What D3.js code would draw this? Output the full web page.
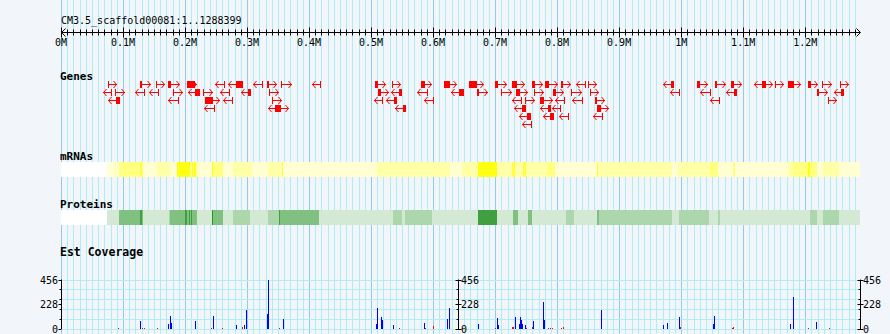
<!DOCTYPE html>
<html><head><meta charset="utf-8">
<script src="https://cdn.jsdelivr.net/npm/d3@7"></script>
<style>body{margin:0;background:#f2f5fa}svg{display:block}</style>
</head><body><svg id="c" width="890" height="334"></svg>
<script>
// ---------------- DATA ----------------
const title = "CM3.5_scaffold00081:1..1288399";
const seqLength = 1288399;
const majorTicks = [0,100000,200000,300000,400000,500000,600000,700000,800000,900000,1000000,1100000,1200000];
const tickLabels = ["0M","0.1M","0.2M","0.3M","0.4M","0.5M","0.6M","0.7M","0.8M","0.9M","1M","1.1M","1.2M"];
const trackLabels = ["Genes","mRNAs","Proteins","Est Coverage"];

// genes: [startKb, endKb, strand (1 fwd, -1 rev, 0 both), row, cdsStartKb, cdsEndKb]
const genes = [
  [76,90,1,0],[127,145,1,0,127,131],[153,168,1,0],[173,192,1,0,173,178],[203,220,1,0,203,216],
  [249,264,-1,0],[269,293,-1,0,282,293],[309,325,-1,0],[332,349,1,0,332,336],[355,372,1,0],[404,419,-1,0],
  [67,82,-1,1],[87,103,1,1],[120,135,-1,1],[142,158,-1,1],[181,197,1,1],[205,224,-1,1,216,224],
  [229,245,1,1],[256,272,-1,1],[290,307,-1,1,301,307],[335,352,1,1],
  [76,95,-1,2,88,95],[173,190,-1,2],[232,257,1,2,232,245],[262,278,-1,2],[341,356,1,2],
  [231,248,-1,3],[334,368,0,3,345,355],
  [506,524,1,0,506,511],[533,549,1,0],[580,599,1,0,580,587],[618,639,1,0,618,627],[658,682,1,0,658,670],
  [700,719,1,0,700,704],[727,748,1,0,727,735],[760,777,1,0,760,764],[780,801,1,0,780,787],
  [806,823,1,0,806,810],[830,847,-1,0],[850,865,1,0],
  [511,529,1,1,511,516],[532,550,-1,1,545,550],[574,591,-1,1],[629,650,-1,1,641,650],[670,688,1,1,670,674],
  [709,727,1,1],[733,753,1,1,733,740],[763,779,1,1],[794,811,1,1,794,798],[822,840,1,1],[853,867,1,1],
  [504,520,-1,2],[524,542,-1,2,537,542],[585,601,-1,2],[728,744,-1,2],[748,764,1,2],[772,793,1,2,772,779],
  [797,813,-1,2],[824,841,-1,2],[861,878,1,2,861,865],
  [539,556,-1,3,552,556],[730,750,-1,3,744,750],[772,790,-1,3,785,790],[792,807,-1,3],[864,884,1,3,864,870],
  [739,758,-1,4,752,758],[778,795,-1,4,788,795],[803,819,-1,4],[858,874,-1,4],
  [743,759,-1,5],
  [971,988,-1,0,983,988],[1025,1043,1,0,1025,1030],[1055,1072,1,0,1055,1058],[1080,1098,1,0,1080,1085],
  [1117,1148,0,0,1130,1137],[1151,1166,1,0],[1172,1194,1,0,1172,1182],[1204,1221,1,0,1204,1209],
  [1227,1243,1,0],[1256,1271,1,0],
  [982,998,-1,1],[1031,1048,-1,1],[1072,1090,-1,1,1085,1090],[1219,1236,1,1,1219,1223],[1246,1263,-1,1,1257,1263],
  [1046,1063,-1,2],[1237,1251,1,2]
];

// density bands: [startKb, endKb, level]
const mrnaSegments = [
  [0,73.7,0],[73.7,87,1],[87,89,2],[89,93.5,1],[93.5,127.4,3],[127.4,130.1,4],[130.1,132.7,3],
  [132.7,154.3,1],[154.3,175.8,2],[175.8,186.6,1],[186.6,208,5],[208,211,3],[211,213,5],[213,215,3],
  [215,217,5],[217,218.8,3],[218.8,243,1],[243,245.6,5],[245.6,261.7,3],[261.7,277.8,1],[277.8,307.5,2],
  [307.5,334.3,1],[334.3,355.9,2],[355.9,358.5,4],[358.5,509.1,1],[509.1,600.3,2],[600.3,627.2,2],
  [627.2,646.1,1],[646.1,672.9,2],[672.9,702.6,5],[702.6,726.8,2],[726.8,732,4],[732,745,2],[745,750,4],
  [750,764.3,2],[764.3,783.2,2],[783.2,796.6,3],[796.6,863.8,1],[863.8,866.4,4],[866.4,984.8,2],
  [984.8,995.4,1],[995.4,1046.5,2],[1046.5,1059.9,3],[1059.9,1084,1],[1084,1086.8,3],[1086.8,1172.8,1],
  [1172.8,1180.8,2],[1180.8,1205,3],[1205,1207.7,5],[1207.7,1218.6,3],[1218.6,1229.2,1],[1229.2,1255,2],
  [1255,1288.4,1]
];
const proteinSegments = [
  [0,73.7,0],[73.7,93.5,1],[93.5,127.4,3],[127.4,130.1,4],[130.1,132.7,3],[132.7,154,1],[154,155.5,2],
  [155.5,174,1],[174,175.8,2],[175.8,200,3],[200,203,4],[203,206,3],[206,208,4],[208,210,3],[210,212,4],
  [212,218.8,3],[218.8,243,1],[243,245.6,5],[245.6,261.7,3],[261.7,277.8,1],[277.8,305,2],[305,334.3,1],
  [334.3,351,2],[351,353.5,4],[353.5,416.4,3],[416.4,509,1],[509,536,1],[536,550,2],[550,555,1],
  [555,598,2],[598,627,1],[627,673,1],[673,702.6,4],[702.6,729.5,1],[729.5,737.5,3],[737.5,753.6,1],
  [753.6,759,3],[759,796.6,1],[796.6,815,1],[815,827,2],[827,863.8,1],[863.8,868,3],[868,984.8,2],
  [984.8,996.5,1],[996.5,1045.4,2],[1045.4,1059.9,1],[1059.9,1062,2],[1062,1172.8,1],[1172.8,1207.7,1],
  [1207.7,1218.6,2],[1218.6,1228.4,1],[1228.4,1255,2],[1255,1288.4,1]
];

// EST coverage: [positionKb, value]
const coverageBlue = [
  [127.9,70],[173,42],[176.2,116],[177.9,55],[216.6,70],[245.6,116],[282.7,33],[294.6,33],[298.8,172],
  [332.2,135],[334.3,456],[357.5,88],[508,42],[509.6,188],[516.5,110],[518.1,80],[535.8,33],[585.8,48],
  [622.9,88],[626.1,188],[671.9,42],[703.5,95],[705.1,33],[732.6,104],[738,42],[740.1,104],[741.8,80],
  [743.8,42],[748.2,33],[761.6,73],[777.7,250],[779.3,80],[870.3,172],[971.2,33],[977.6,55],[996,104],
  [1051.8,42],[1053.4,113],[1176,42],[1180.8,297],[1217.9,64]
];
const coverageRed = [
  [92.4,5],[130.1,5],[134.3,5],[155.3,5],[242.4,5],[259.1,5],[260.4,5],[291.4,15],[352,5],[515.5,10],
  [545.5,4],[587.4,5],[599.4,20],[646.1,5],[700.3,5],[727.7,10],[729.4,10],[749.8,5],[760,15],[785.3,4],
  [788.5,4],[791.7,4],[806.3,8],[809,12],[970.2,5],[998.6,12],[1081.5,4],[1083.6,10],[1205,5],[1238.9,5]
];
const coverageMax = 456;
const coverageTicks = [0,228,456];
const coverageMinorTicks = [91.2,182.4,273.6,364.8];
const coverageGrid = [0,91.2,182.4,273.6,364.8,456];

// ---------------- DRAW ----------------
const svg = d3.select("#c");
const W = 890, H = 334;
const mono = "'DejaVu Sans Mono', monospace";
const x = d3.scaleLinear().domain([0, seqLength]).range([61, 860]);
const kb = v => x(v * 1000);
const px = v => Math.round(v) + 0.5;

svg.append("rect").attr("width", W).attr("height", H).attr("fill", "#f2f5fa");

// vertical grid
const gridPos = d3.range(0, seqLength, 10000);
svg.append("g").selectAll("line").data(gridPos).join("line")
  .attr("x1", d => px(x(d))).attr("x2", d => px(x(d)))
  .attr("y1", 0).attr("y2", H)
  .attr("stroke", d => d % 100000 === 0 ? "#8ecdea" : "#aeeef2").attr("stroke-width", 1);

// title
svg.append("text").attr("x", 61).attr("y", 24).attr("font-family", mono).attr("font-size", 10)
  .attr("fill", "#000").text(title);

// ruler
const axisY = 32.5;
const rg = svg.append("g").attr("stroke", "#000").attr("stroke-width", 1);
rg.append("line").attr("x1", 61).attr("x2", 860).attr("y1", axisY).attr("y2", axisY);
rg.append("path").attr("fill", "none").attr("d", `M65.5,28.5L61.5,32.5L65.5,36.5`);
rg.append("path").attr("fill", "none").attr("d", `M856.5,28.5L860.5,32.5L856.5,36.5`);
rg.selectAll(".mn").data(gridPos.filter(d => d % 100000 !== 0)).join("line")
  .attr("x1", d => px(x(d))).attr("x2", d => px(x(d))).attr("y1", 29.5).attr("y2", 35.5);
rg.selectAll(".mj").data(majorTicks).join("line")
  .attr("x1", d => px(x(d))).attr("x2", d => px(x(d))).attr("y1", 27.5).attr("y2", 37.5);
svg.append("g").selectAll("text").data(majorTicks).join("text")
  .attr("x", d => x(d)).attr("y", 46).attr("text-anchor", "middle")
  .attr("font-family", mono).attr("font-size", 10).attr("fill", "#000")
  .text((d, i) => tickLabels[i]);

// track labels
const labelY = [80, 160, 208, 256];
svg.append("g").selectAll("text").data(trackLabels).join("text")
  .attr("x", 60).attr("y", (d, i) => labelY[i])
  .attr("font-family", mono).attr("font-size", (d, i) => i === 3 ? 11.5 : 11).attr("font-weight", "bold")
  .attr("fill", "#000").text(d => d);

// genes
const gg = svg.append("g");
const rowY = r => 84.5 + r * 8;
genes.forEach(g => {
  const [s, e, strand, row, cs, ce] = g;
  const x1 = Math.round(kb(s)), x2 = Math.round(kb(e));
  const cy = rowY(row);
  const grp = gg.append("g").attr("stroke", "#f00").attr("fill", "none").attr("stroke-width", 1);
  grp.append("line").attr("x1", x1).attr("x2", x2).attr("y1", cy).attr("y2", cy);
  if (strand === 1) {
    grp.append("line").attr("x1", x1 + 0.5).attr("x2", x1 + 0.5).attr("y1", cy - 3.5).attr("y2", cy + 3.5);
    grp.append("path").attr("d", `M${x2 - 3.5},${cy - 3.5}L${x2 - 0.5},${cy}L${x2 - 3.5},${cy + 3.5}`);
  } else if (strand === -1) {
    grp.append("line").attr("x1", x2 - 0.5).attr("x2", x2 - 0.5).attr("y1", cy - 3.5).attr("y2", cy + 3.5);
    grp.append("path").attr("d", `M${x1 + 3.5},${cy - 3.5}L${x1 + 0.5},${cy}L${x1 + 3.5},${cy + 3.5}`);
  } else {
    grp.append("path").attr("d", `M${x2 - 3.5},${cy - 3.5}L${x2 - 0.5},${cy}L${x2 - 3.5},${cy + 3.5}`);
    grp.append("path").attr("d", `M${x1 + 3.5},${cy - 3.5}L${x1 + 0.5},${cy}L${x1 + 3.5},${cy + 3.5}`);
  }
  if (cs !== undefined) {
    const b1 = Math.round(kb(cs)), b2 = Math.max(Math.round(kb(ce)), b1 + 2);
    gg.append("rect").attr("x", b1).attr("y", cy - 3.5).attr("width", b2 - b1).attr("height", 7).attr("fill", "#f00");
  }
});

// bands
const mrnaColors = ["#ffffff", "#ffffd2", "#ffffa8", "#ffff80", "#ffff40", "#ffff14"];
const protColors = ["#ffffff", "#d4e9d4", "#acd6ac", "#80c080", "#40a040", "#2a962a"];
function band(data, y, colors) {
  svg.append("g").selectAll("rect").data(data).join("rect")
    .attr("x", d => kb(d[0])).attr("y", y)
    .attr("width", d => Math.max(kb(d[1]) - kb(d[0]), 0.6)).attr("height", 15)
    .attr("fill", d => colors[d[2]]).attr("shape-rendering", "crispEdges");
}
band(mrnaSegments, 162, mrnaColors);
band(proteinSegments, 210, protColors);

// coverage
const y = d3.scaleLinear().domain([0, coverageMax]).range([328.5, 279.5]);
svg.append("g").selectAll("line").data(coverageGrid).join("line")
  .attr("x1", 61).attr("x2", 860).attr("y1", d => px(y(d))).attr("y2", d => px(y(d)))
  .attr("stroke", "#aeeef2");
svg.append("g").selectAll("rect").data(coverageRed).join("rect")
  .attr("x", d => Math.round(kb(d[0]))).attr("width", 1)
  .attr("y", d => Math.round(y(d[1]))).attr("height", d => Math.max(1, 328 - Math.round(y(d[1])) + 1))
  .attr("fill", "#f00");
svg.append("g").selectAll("rect").data(coverageBlue).join("rect")
  .attr("x", d => Math.round(kb(d[0]))).attr("width", 1)
  .attr("y", d => Math.round(y(d[1]))).attr("height", d => 329 - Math.round(y(d[1])))
  .attr("fill", "#00f");

function yAxis(ax, side) {
  const g = svg.append("g").attr("stroke", "#000");
  g.append("line").attr("x1", px(ax)).attr("x2", px(ax)).attr("y1", y(coverageMax)).attr("y2", y(0) + 0.5);
  coverageTicks.forEach(t => g.append("line").attr("x1", px(ax) - 3).attr("x2", px(ax) + (side > 0 ? 3 : 0))
    .attr("y1", px(y(t))).attr("y2", px(y(t))));
  coverageMinorTicks.forEach(t => g.append("line").attr("x1", px(ax) - 2).attr("x2", px(ax))
    .attr("y1", px(y(t))).attr("y2", px(y(t))));
  svg.append("g").selectAll("text").data(coverageTicks).join("text")
    .attr("x", side > 0 ? ax + 3 : ax - 3).attr("y", d => y(d) + 4)
    .attr("text-anchor", side > 0 ? "start" : "end")
    .attr("font-family", mono).attr("font-size", 10).attr("fill", "#000").text(d => d);
}
yAxis(61, -1);
yAxis(x(640000), 1);
yAxis(860, 1);
</script></body></html>
